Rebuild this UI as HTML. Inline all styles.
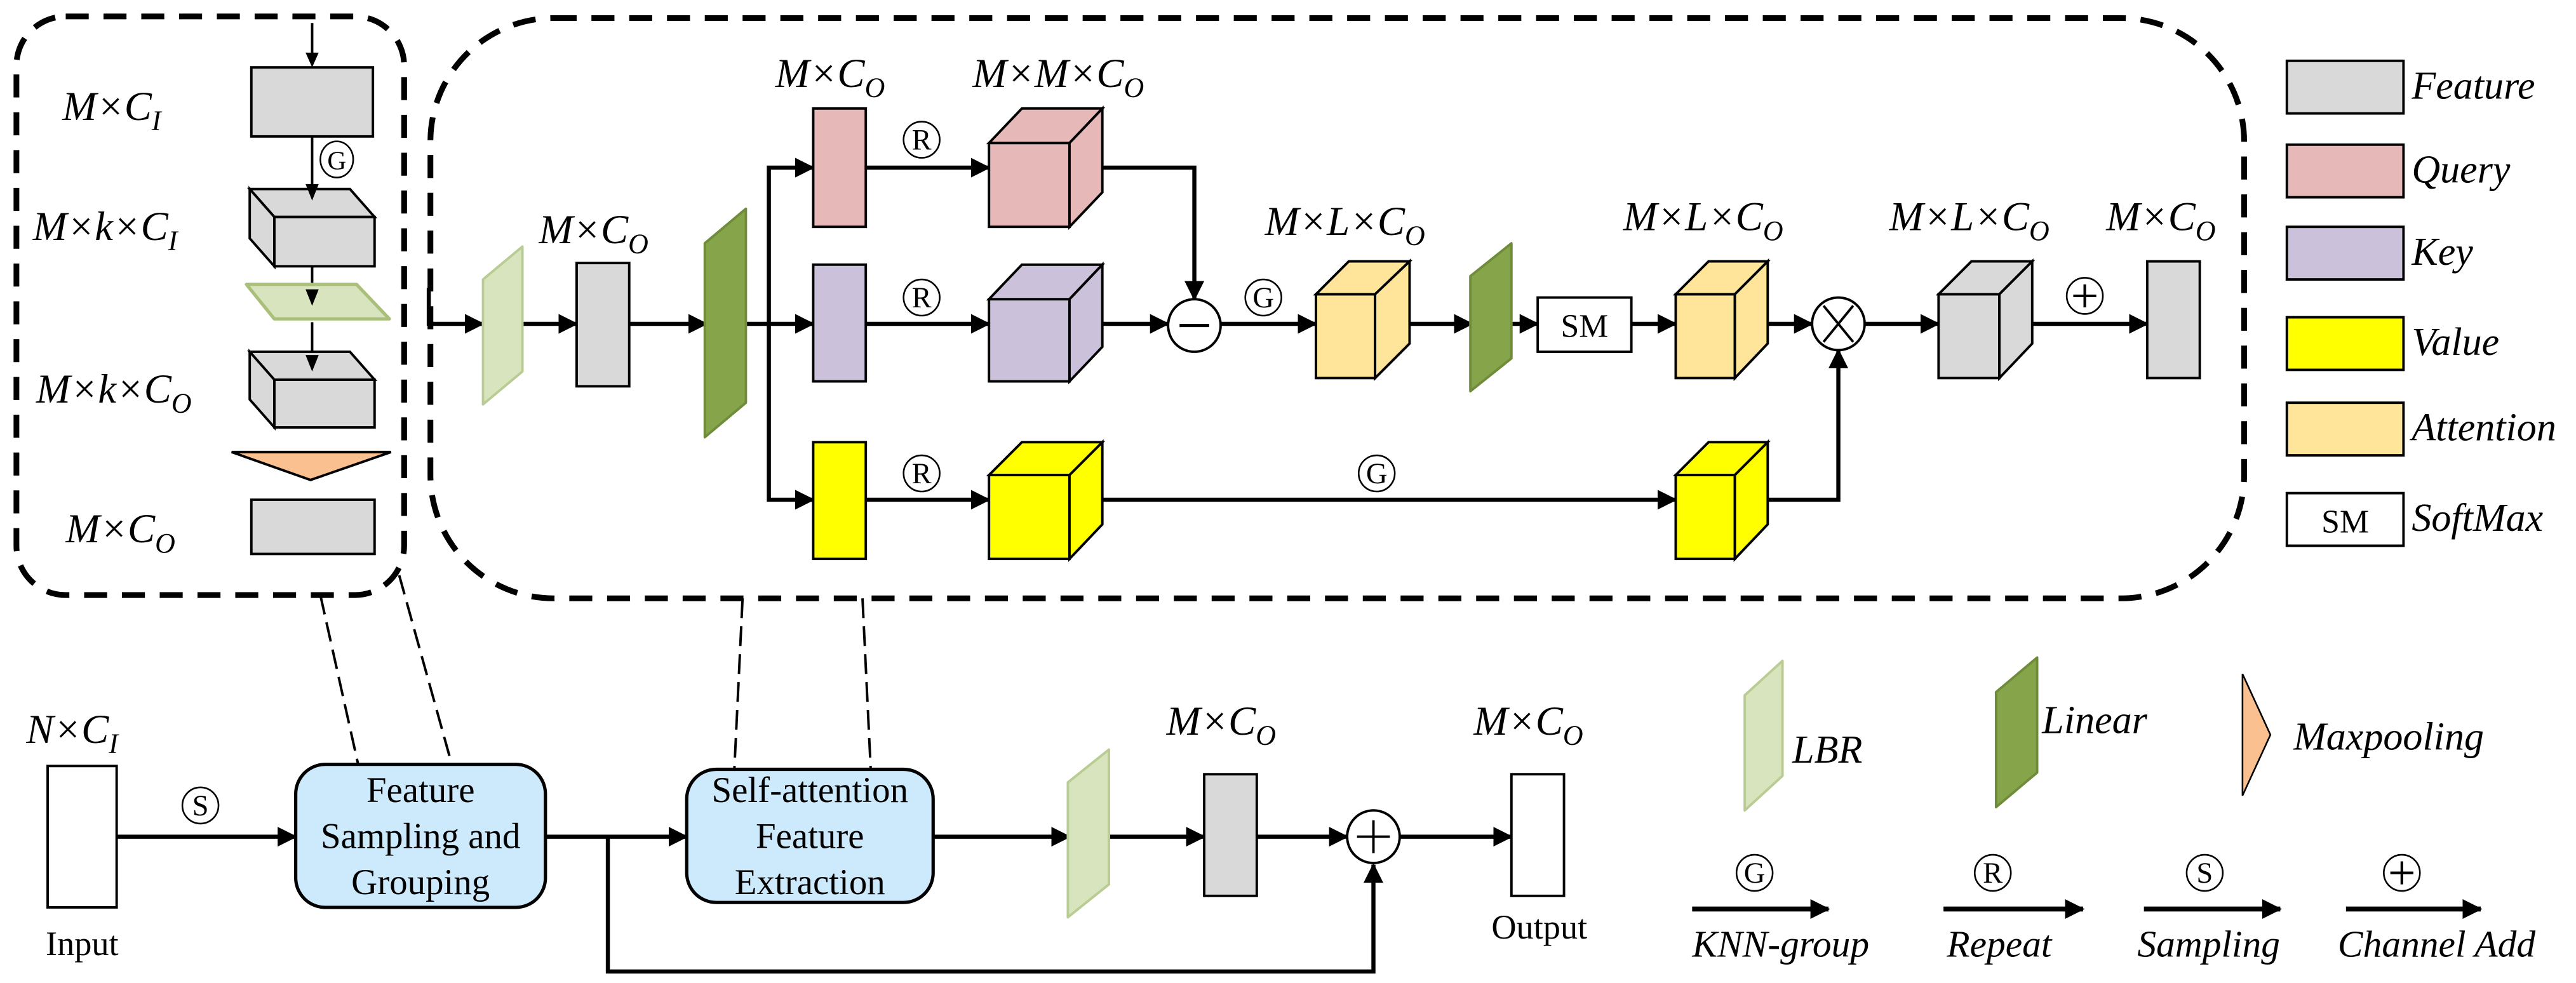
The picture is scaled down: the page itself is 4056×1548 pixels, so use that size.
<!DOCTYPE html>
<html><head><meta charset="utf-8"><style>
html,body{margin:0;padding:0;background:#fff;}
svg{display:block;}
svg text{font-family:"Liberation Serif","Times New Roman",serif !important;fill:#000;}
.it{font-style:italic;}
</style></head><body>
<svg width="4056" height="1548" viewBox="0 0 1568 598" preserveAspectRatio="none" xmlns="http://www.w3.org/2000/svg" font-family="Liberation Serif, serif">
<defs>
<marker id="a" markerUnits="userSpaceOnUse" markerWidth="12" markerHeight="12" refX="11" refY="6" orient="auto"><path d="M0,0 L12,6 L0,12 z" fill="#000"/></marker>
</defs>

<!-- dashed frames -->
<rect x="10" y="10" width="236" height="352" rx="30" fill="none" stroke="#000" stroke-width="3.5" stroke-dasharray="14 9"/>
<rect x="262" y="11" width="1104" height="353" rx="75" fill="none" stroke="#000" stroke-width="3.5" stroke-dasharray="14 9"/>
<g stroke="#000" stroke-width="1.5" stroke-dasharray="12 5" fill="none">
<line x1="195" y1="362" x2="218" y2="465"/>
<line x1="243" y1="350" x2="275" y2="465"/>
<line x1="452" y1="364" x2="447" y2="468"/>
<line x1="525" y1="364" x2="530" y2="468"/>
</g>

<!-- left box -->
<g stroke="#000" stroke-width="1.5" fill="none">
<line x1="190" y1="14" x2="190" y2="34"/>
<line x1="190" y1="83" x2="190" y2="125"/>
<line x1="190" y1="162" x2="190" y2="177"/>
<line x1="190" y1="196" x2="190" y2="219"/>
</g>
<rect x="153" y="41" width="74" height="42" fill="#d9d9d9" stroke="#000" stroke-width="1.5"/>
<g stroke="#000" stroke-width="1.5" fill="#d9d9d9">
<polygon points="167,132 152,115 213,115 228,132"/>
<polygon points="167,132 152,115 152,145 167,162"/>
<rect x="167" y="132" width="61" height="30"/>
<polygon points="167,231 152,214 213,214 228,231"/>
<polygon points="167,231 152,214 152,243 167,260"/>
<rect x="167" y="231" width="61" height="29"/>
</g>
<polygon points="150,173 217,173 237,194 167,194" fill="#d7e4bd" stroke="#a9bf7a" stroke-width="2" stroke-linejoin="round"/>
<g fill="#000">
<polygon points="186,32 194,32 190,41"/>
<polygon points="186,112 194,112 190,122"/>
<polygon points="186,176 194,176 190,186"/>
<polygon points="186,216 194,216 190,226"/>
</g>
<polygon points="141,275 238,275 189,292" fill="#fac090" stroke="#000" stroke-width="1.5"/>
<rect x="153" y="304" width="75" height="33" fill="#d9d9d9" stroke="#000" stroke-width="1.5"/>
<ellipse cx="205" cy="97" rx="10" ry="11" fill="none" stroke="#000" stroke-width="1"/>
<text x="205" y="103" font-size="16" text-anchor="middle">G</text>
<text class="it" x="38" y="73" font-size="25">M×C<tspan dy="6" font-size="17">I</tspan></text>
<text class="it" x="20" y="146" font-size="25">M×k×C<tspan dy="6" font-size="17">I</tspan></text>
<text class="it" x="22" y="245" font-size="25">M×k×C<tspan dy="6" font-size="17">O</tspan></text>
<text class="it" x="40" y="330" font-size="25">M×C<tspan dy="6" font-size="17">O</tspan></text>

<!-- main box arrows -->
<g stroke="#000" stroke-width="2.5" fill="none">
<polyline points="261,175 261,197 294,197" marker-end="url(#a)"/>
<line x1="308" y1="197" x2="351" y2="197" marker-end="url(#a)"/>
<line x1="383" y1="197" x2="430" y2="197" marker-end="url(#a)"/>
<line x1="443" y1="197" x2="495" y2="197" marker-end="url(#a)"/>
<polyline points="468,197 468,102 495,102" marker-end="url(#a)"/>
<polyline points="468,197 468,304 495,304" marker-end="url(#a)"/>
<line x1="527" y1="102" x2="602" y2="102" marker-end="url(#a)"/>
<line x1="527" y1="197" x2="602" y2="197" marker-end="url(#a)"/>
<line x1="527" y1="304" x2="602" y2="304" marker-end="url(#a)"/>
<polyline points="661,102 727,102 727,182" marker-end="url(#a)"/>
<line x1="662" y1="197" x2="711" y2="197" marker-end="url(#a)"/>
<line x1="743" y1="197" x2="801" y2="197" marker-end="url(#a)"/>
<line x1="846" y1="197" x2="896" y2="197" marker-end="url(#a)"/>
<line x1="909" y1="197" x2="936" y2="197" marker-end="url(#a)"/>
<line x1="993" y1="197" x2="1020" y2="197" marker-end="url(#a)"/>
<line x1="1066" y1="197" x2="1103" y2="197" marker-end="url(#a)"/>
<line x1="1135" y1="197" x2="1180" y2="197" marker-end="url(#a)"/>
<line x1="1227" y1="197" x2="1307" y2="197" marker-end="url(#a)"/>
<line x1="662" y1="304" x2="1020" y2="304" marker-end="url(#a)"/>
<polyline points="1066,304 1119,304 1119,213" marker-end="url(#a)"/>
</g>

<!-- LBR / Linear -->
<polygon points="318,150 318,226 294,246 294,170" fill="#d7e4bd" stroke="#b9cc93" stroke-width="1.5" stroke-linejoin="round"/>
<rect x="351" y="160" width="32" height="75" fill="#d9d9d9" stroke="#000" stroke-width="1.5"/>
<polygon points="454,127 454,245 429,266 429,148" fill="#86a44a" stroke="#6f8c3a" stroke-width="1.5" stroke-linejoin="round"/>
<polygon points="920,148 920,218 895,238 895,168" fill="#86a44a" stroke="#6f8c3a" stroke-width="1.5" stroke-linejoin="round"/>

<!-- Q K V rects -->
<rect x="495" y="66" width="32" height="72" fill="#e6b9b8" stroke="#000" stroke-width="1.5"/>
<rect x="495" y="161" width="32" height="71" fill="#ccc1da" stroke="#000" stroke-width="1.5"/>
<rect x="495" y="269" width="32" height="71" fill="#ffff00" stroke="#000" stroke-width="1.5"/>

<!-- cubes -->
<g stroke="#000" stroke-width="1.5">
<g fill="#e6b9b8"><rect x="602" y="87" width="49" height="51"/><polygon points="602,87 622,66 671,66 651,87"/><polygon points="651,87 671,66 671,117 651,138"/></g>
<g fill="#ccc1da"><rect x="602" y="182" width="49" height="50"/><polygon points="602,182 622,161 671,161 651,182"/><polygon points="651,182 671,161 671,211 651,232"/></g>
<g fill="#ffff00"><rect x="602" y="289" width="49" height="51"/><polygon points="602,289 622,269 671,269 651,289"/><polygon points="651,289 671,269 671,319 651,340"/></g>
<g fill="#fee599"><rect x="801" y="179" width="36" height="51"/><polygon points="801,179 821,159 858,159 837,179"/><polygon points="837,179 858,159 858,209 837,230"/></g>
<g fill="#fee599"><rect x="1020" y="179" width="36" height="51"/><polygon points="1020,179 1040,159 1076,159 1056,179"/><polygon points="1056,179 1076,159 1076,209 1056,230"/></g>
<g fill="#d9d9d9"><rect x="1180" y="179" width="37" height="51"/><polygon points="1180,179 1200,159 1237,159 1217,179"/><polygon points="1217,179 1237,159 1237,209 1217,230"/></g>
<g fill="#ffff00"><rect x="1020" y="289" width="36" height="51"/><polygon points="1020,289 1040,269 1076,269 1056,289"/><polygon points="1056,289 1076,269 1076,319 1056,340"/></g>
</g>
<rect x="1307" y="159" width="32" height="71" fill="#d9d9d9" stroke="#000" stroke-width="1.5"/>
<rect x="936" y="181" width="57" height="33" fill="#fff" stroke="#000" stroke-width="1.5"/>
<text x="964.5" y="205" font-size="20" text-anchor="middle">SM</text>

<!-- operators -->
<ellipse cx="727" cy="198" rx="16" ry="16" fill="#fff" stroke="#000" stroke-width="1.5"/>
<line x1="718" y1="198" x2="736" y2="198" stroke="#000" stroke-width="2"/>
<ellipse cx="1119" cy="197" rx="16" ry="16" fill="#fff" stroke="#000" stroke-width="1.5"/>
<line x1="1110" y1="186" x2="1128" y2="208" stroke="#000" stroke-width="1.5"/>
<line x1="1128" y1="186" x2="1110" y2="208" stroke="#000" stroke-width="1.5"/>

<!-- circled labels -->
<g fill="none" stroke="#000" stroke-width="1">
<ellipse cx="561" cy="85" rx="11" ry="11"/><ellipse cx="561" cy="181" rx="11" ry="11"/><ellipse cx="561" cy="288" rx="11" ry="11"/>
<ellipse cx="769" cy="181" rx="11" ry="11"/><ellipse cx="838" cy="288" rx="11" ry="11"/><ellipse cx="1269" cy="180" rx="11" ry="11"/>
<ellipse cx="122" cy="490" rx="11" ry="11"/>
<ellipse cx="1068" cy="531" rx="11" ry="11"/><ellipse cx="1213" cy="531" rx="11" ry="11"/><ellipse cx="1342" cy="531" rx="11" ry="11"/><ellipse cx="1462" cy="531" rx="11" ry="11"/>
</g>
<g font-size="18" text-anchor="middle">
<text x="561" y="91">R</text><text x="561" y="187">R</text><text x="561" y="294">R</text>
<text x="769" y="187">G</text><text x="838" y="294">G</text>
<text x="122" y="496">S</text>
<text x="1068" y="537">G</text><text x="1213" y="537">R</text><text x="1342" y="537">S</text>
</g>
<g stroke="#000" stroke-width="1.6"><line x1="1262" y1="180" x2="1276" y2="180"/><line x1="1269" y1="173" x2="1269" y2="187"/>
<line x1="1455" y1="531" x2="1469" y2="531"/><line x1="1462" y1="524" x2="1462" y2="538"/></g>

<!-- main labels -->
<g font-size="25">
<text class="it" x="328" y="148">M×C<tspan dy="6" font-size="17">O</tspan></text>
<text class="it" x="472" y="53">M×C<tspan dy="6" font-size="17">O</tspan></text>
<text class="it" x="592" y="53">M×M×C<tspan dy="6" font-size="17">O</tspan></text>
<text class="it" x="770" y="143">M×L×C<tspan dy="6" font-size="17">O</tspan></text>
<text class="it" x="988" y="140">M×L×C<tspan dy="6" font-size="17">O</tspan></text>
<text class="it" x="1150" y="140">M×L×C<tspan dy="6" font-size="17">O</tspan></text>
<text class="it" x="1282" y="140">M×C<tspan dy="6" font-size="17">O</tspan></text>
</g>

<!-- legend right -->
<g stroke="#000" stroke-width="1.5">
<rect x="1392" y="37" width="71" height="32" fill="#d9d9d9"/>
<rect x="1392" y="88" width="71" height="32" fill="#e6b9b8"/>
<rect x="1392" y="138" width="71" height="32" fill="#ccc1da"/>
<rect x="1392" y="193" width="71" height="32" fill="#ffff00"/>
<rect x="1392" y="245" width="71" height="32" fill="#fee599"/>
<rect x="1392" y="300" width="71" height="32" fill="#fff"/>
</g>
<text x="1427.5" y="324" font-size="20" text-anchor="middle">SM</text>
<g font-size="24">
<text class="it" x="1468" y="60">Feature</text>
<text class="it" x="1468" y="111">Query</text>
<text class="it" x="1468" y="161">Key</text>
<text class="it" x="1468" y="216">Value</text>
<text class="it" x="1468" y="268">Attention</text>
<text class="it" x="1468" y="323">SoftMax</text>
</g>

<!-- bottom pipeline -->
<rect x="29" y="466" width="42" height="86" fill="#fff" stroke="#000" stroke-width="1.5"/>
<text class="it" x="16" y="452" font-size="25">N×C<tspan dy="6" font-size="17">I</tspan></text>
<text x="50" y="581" font-size="21" text-anchor="middle">Input</text>
<g stroke="#000" stroke-width="2.5" fill="none">
<line x1="71" y1="509" x2="180" y2="509" marker-end="url(#a)"/>
<line x1="332" y1="509" x2="418" y2="509" marker-end="url(#a)"/>
<polyline points="370,509 370,591 836,591 836,526" marker-end="url(#a)"/>
<line x1="568" y1="509" x2="651" y2="509" marker-end="url(#a)"/>
<line x1="665" y1="509" x2="733" y2="509" marker-end="url(#a)"/>
<line x1="765" y1="509" x2="820" y2="509" marker-end="url(#a)"/>
<line x1="852" y1="509" x2="920" y2="509" marker-end="url(#a)"/>
</g>
<rect x="180" y="465" width="152" height="87" rx="18" fill="#cdeafd" stroke="#000" stroke-width="2"/>
<rect x="418" y="468" width="150" height="81" rx="18" fill="#cdeafd" stroke="#000" stroke-width="2"/>
<g font-size="22" text-anchor="middle">
<text x="256" y="488">Feature</text>
<text x="256" y="516">Sampling and</text>
<text x="256" y="544">Grouping</text>
<text x="493" y="488">Self-attention</text>
<text x="493" y="516">Feature</text>
<text x="493" y="544">Extraction</text>
</g>
<polygon points="675,456 675,538 650,558 650,476" fill="#d7e4bd" stroke="#b9cc93" stroke-width="1.5" stroke-linejoin="round"/>
<rect x="733" y="471" width="32" height="74" fill="#d9d9d9" stroke="#000" stroke-width="1.5"/>
<text class="it" x="710" y="447" font-size="25">M×C<tspan dy="6" font-size="17">O</tspan></text>
<ellipse cx="836" cy="509" rx="16" ry="16" fill="#fff" stroke="#000" stroke-width="1.5"/>
<line x1="826" y1="509" x2="846" y2="509" stroke="#000" stroke-width="1.5"/>
<line x1="836" y1="499" x2="836" y2="519" stroke="#000" stroke-width="1.5"/>
<rect x="920" y="471" width="32" height="74" fill="#fff" stroke="#000" stroke-width="1.5"/>
<text class="it" x="897" y="447" font-size="25">M×C<tspan dy="6" font-size="17">O</tspan></text>
<text x="937" y="571" font-size="21" text-anchor="middle">Output</text>

<!-- bottom legend -->
<polygon points="1085,402 1085,472 1062,493 1062,423" fill="#d7e4bd" stroke="#b9cc93" stroke-width="1.5" stroke-linejoin="round"/>
<text class="it" x="1091" y="464" font-size="24">LBR</text>
<polygon points="1240,400 1240,470 1215,491 1215,421" fill="#86a44a" stroke="#6f8c3a" stroke-width="1.5" stroke-linejoin="round"/>
<text class="it" x="1243" y="446" font-size="24">Linear</text>
<polygon points="1365,410 1382,447 1365,484" fill="#fac090" stroke="#000" stroke-width="1"/>
<text class="it" x="1396" y="456" font-size="24">Maxpooling</text>
<g stroke="#000" stroke-width="3" fill="none">
<line x1="1030" y1="553" x2="1113" y2="553" marker-end="url(#a)"/>
<line x1="1183" y1="553" x2="1268" y2="553" marker-end="url(#a)"/>
<line x1="1305" y1="553" x2="1388" y2="553" marker-end="url(#a)"/>
<line x1="1428" y1="553" x2="1510" y2="553" marker-end="url(#a)"/>
</g>
<g font-size="23">
<text class="it" x="1030" y="582">KNN-group</text>
<text class="it" x="1185" y="582">Repeat</text>
<text class="it" x="1301" y="582">Sampling</text>
<text class="it" x="1423" y="582">Channel Add</text>
</g>
</svg>
</body></html>
